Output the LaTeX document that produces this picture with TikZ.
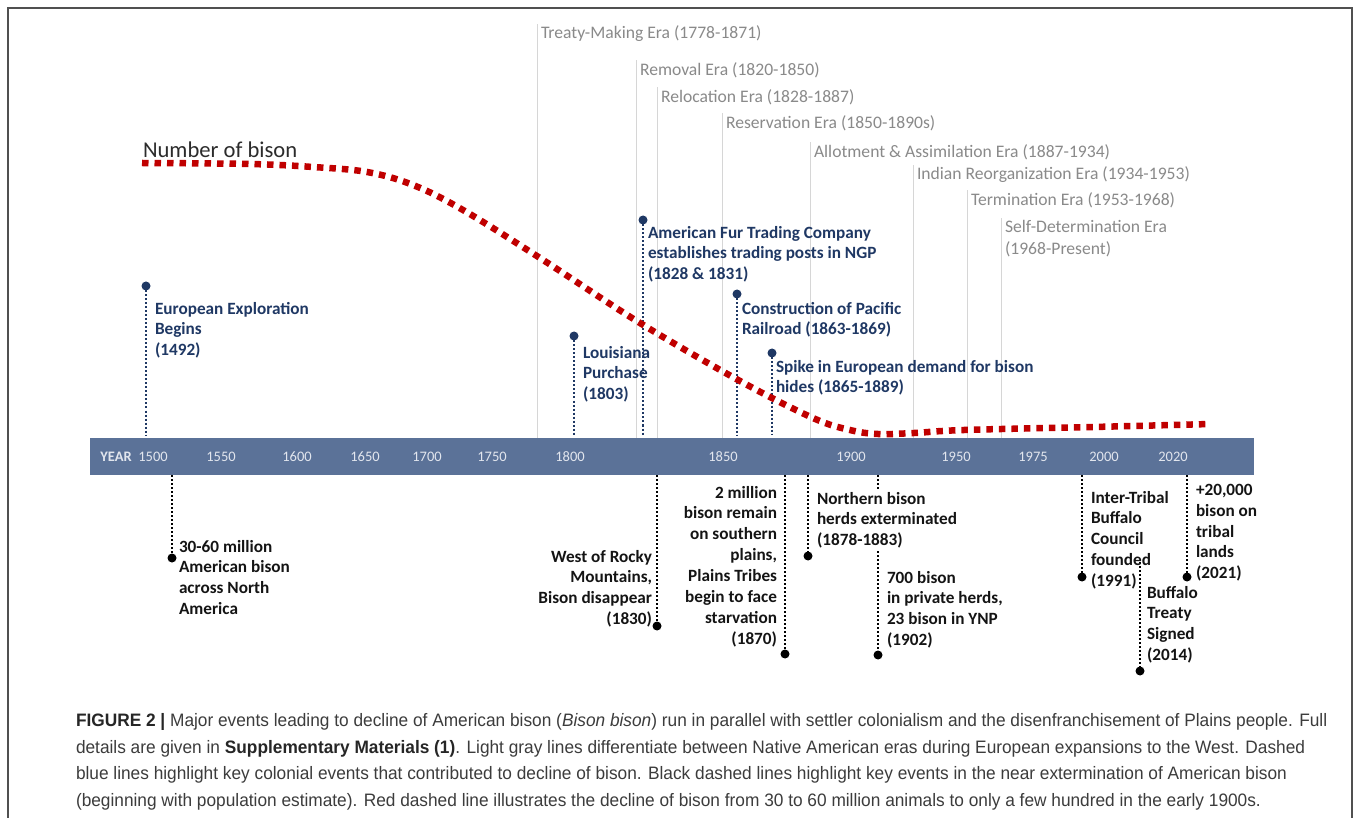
\documentclass[tikz,border=0pt]{standalone}
\usepackage{fontspec}
\setmainfont{Carlito}
\newfontfamily\capfont[FakeStretch=0.96]{Liberation Sans}
\definecolor{navy}{RGB}{31,56,100}
\definecolor{barblue}{RGB}{91,114,152}
\definecolor{bisonred}{RGB}{192,0,0}
\definecolor{eragray}{RGB}{138,138,138}
\definecolor{eralinecol}{RGB}{214,214,214}
\definecolor{yeartxt}{RGB}{226,230,238}
\definecolor{captxt}{RGB}{60,60,60}
\definecolor{blktxt}{RGB}{20,20,20}
\definecolor{framecol}{RGB}{80,80,80}
\tikzset{
  every node/.style={inner sep=0pt, outer sep=0pt},
  evfont/.style={font=\bfseries\fontsize{17.2}{20.9}\selectfont},
  bluetxt/.style={evfont, anchor=north west, align=left, text=navy},
  blktxtL/.style={evfont, anchor=north west, align=left, text=blktxt},
  blktxtR/.style={evfont, anchor=north east, align=right, text=blktxt},
  eralabel/.style={anchor=west, text=eragray, font=\fontsize{17.6}{22}\selectfont},
  eraline/.style={draw=eralinecol, line width=1.2pt},
  bluedot/.style={circle, fill=navy, minimum size=9pt},
  blkdot/.style={circle, fill=black, minimum size=9pt},
  blueline/.style={draw=navy, line width=2.4pt, dash pattern=on 2pt off 2pt},
  blkline/.style={draw=black, line width=2.4pt, dash pattern=on 2pt off 2pt},
  yearlbl/.style={text=yeartxt, font=\fontsize{14.5}{16}\selectfont},
  bisoncurve/.style={draw=bisonred, line width=6.5pt, dash pattern=on 6.5pt off 6pt},
}
\begin{document}
\begin{tikzpicture}[x=1pt,y=-1pt]
\useasboundingbox (0,0) rectangle (1358,818);
\fill[white] (0,0) rectangle (1358,818);
% frame
\draw[framecol, line width=1.5pt] (8,830) -- (8,8) -- (1352,8) -- (1352,830);

% timeline bar
\node (bar) [fill=barblue, minimum width=1164pt, minimum height=37pt, anchor=north west] at (90,438) {};
\node (yr) [yearlbl, font=\bfseries\fontsize{14.5}{16}\selectfont] at (116,456.5) {YEAR};
\foreach \x/\y in {153/1500,221/1550,297/1600,365/1650,427/1700,492/1750,570/1800,723/1850,851/1900,956/1950,1033/1975,1104/2000,1173/2020}
  \node (y\y) [yearlbl] at (\x,456.5) {\y};

% era labels and lines
\node (eTreaty) [eralabel] at (541,34) {Treaty-Making Era (1778-1871)};
\node (eRemoval) [eralabel] at (640,70) {Removal Era (1820-1850)};
\node (eReloc) [eralabel] at (661,97) {Relocation Era (1828-1887)};
\node (eReserv) [eralabel] at (726,123) {Reservation Era (1850-1890s)};
\node (eAllot) [eralabel] at (814,152) {Allotment \& Assimilation Era (1887-1934)};
\node (eIndian) [eralabel] at (917,175) {Indian Reorganization Era (1934-1953)};
\node (eTerm) [eralabel] at (971,200) {Termination Era (1953-1968)};
\node (eSelf) [eralabel, anchor=north west, align=left] at (1005,220.5) {Self-Determination Era\\(1968-Present)};
\foreach \n in {eTreaty,eRemoval,eReloc,eReserv,eAllot,eIndian,eTerm,eSelf}
  \draw[eraline] ([xshift=-3.5pt,yshift=2pt]\n.north west) -- ([xshift=-3.5pt]\n.north west |- bar.north);

% number of bison
\node (nob) [anchor=base west, text=blktxt!90, font=\fontsize{22.6}{26}\selectfont] at (143,158) {Number of bison};

% blue (colonial) events
\node (dEU) [bluedot] at (146,286) {};
\node (dLP) [bluedot] at (574,336) {};
\node (dAF) [bluedot] at (643,220) {};
\node (dCP) [bluedot] at (737,294) {};
\node (dSP) [bluedot] at (772,353) {};
\foreach \d in {dEU,dLP,dAF,dCP,dSP}
  \draw[blueline, shorten >=3pt] (\d) -- (\d |- bar.north);

\node (tEU) [bluetxt] at (155,302) {European Exploration\\Begins\\(1492)};
\node (tLP) [bluetxt] at (583,346) {Louisiana\\Purchase\\(1803)};
\node (tAF) [bluetxt] at (648,226) {American Fur Trading Company\\establishes trading posts in NGP\\(1828 \& 1831)};
\node (tCP) [bluetxt] at (742,302) {Construction of Pacific\\Railroad (1863-1869)};
\node (tSP) [bluetxt] at (776,360) {Spike in European demand for bison\\hides (1865-1889)};

% black (extermination) events
\node (b3060) [blkdot] at (172,558) {};
\node (bWest) [blkdot] at (657,626) {};
\node (b2M) [blkdot] at (785,654) {};
\node (bNorth) [blkdot] at (808,556) {};
\node (b700) [blkdot] at (878,655) {};
\node (bInter) [blkdot] at (1082,577) {};
\node (bTreaty) [blkdot] at (1140,671) {};
\node (b20k) [blkdot] at (1187,577) {};
\coordinate (cTreaty) at (1140,562);
\foreach \d in {b3060,bWest,b2M,bNorth,b700,bInter,b20k}
  \draw[blkline] (\d |- bar.south) -- (\d);
\draw[blkline] (cTreaty) -- (bTreaty);

\node (t3060) [blktxtL] at (179,540) {30-60 million\\American bison\\across North\\America};
\node (tWest) [blktxtR] at (652,550) {West of Rocky\\Mountains,\\Bison disappear\\(1830)};
\node (t2M) [blktxtR] at (777,486) {2 million\\bison remain\\on southern\\plains,\\Plains Tribes\\begin to face\\starvation\\(1870)};
\node (tNorth) [blktxtL, fill=white, inner ysep=3pt] at (817,489) {Northern bison\\herds exterminated\\(1878-1883)};
\node (t700) [blktxtL] at (887,571) {700 bison\\in private herds,\\23 bison in YNP\\(1902)};
\node (tInter) [blktxtL] at (1091,491) {Inter-Tribal\\Buffalo\\Council\\founded\\(1991)};
\node (tTreaty) [blktxtL] at (1147,586) {Buffalo\\Treaty\\Signed\\(2014)};
\node (t20k) [blktxtL] at (1196,484) {+20,000\\bison on\\tribal\\lands\\(2021)};

% bison curve
\draw[bisoncurve] plot[smooth, tension=0.6] coordinates {(142,163) (250,164) (313,167) (367,172) (413,185) (463,210) (540,258) (640,323) (740,381) (813,418) (850,430) (878,434) (914,433) (964,430) (1093,427) (1211,424)};

% caption
\node (cap) [anchor=north west, align=left, text=captxt, font=\capfont\fontsize{18}{26.7}\selectfont] at (76,713.5)
{\textbf{\color{black!85}FIGURE 2 |} Major events leading to decline of American bison (\textit{Bison bison}) run in parallel with settler colonialism and the disenfranchisement of Plains people. Full\\
details are given in \textbf{\color{black!85}Supplementary Materials (1)}. Light gray lines differentiate between Native American eras during European expansions to the West. Dashed\\
blue lines highlight key colonial events that contributed to decline of bison. Black dashed lines highlight key events in the near extermination of American bison\\
(beginning with population estimate). Red dashed line illustrates the decline of bison from 30 to 60 million animals to only a few hundred in the early 1900s.};
\end{tikzpicture}
\end{document}
